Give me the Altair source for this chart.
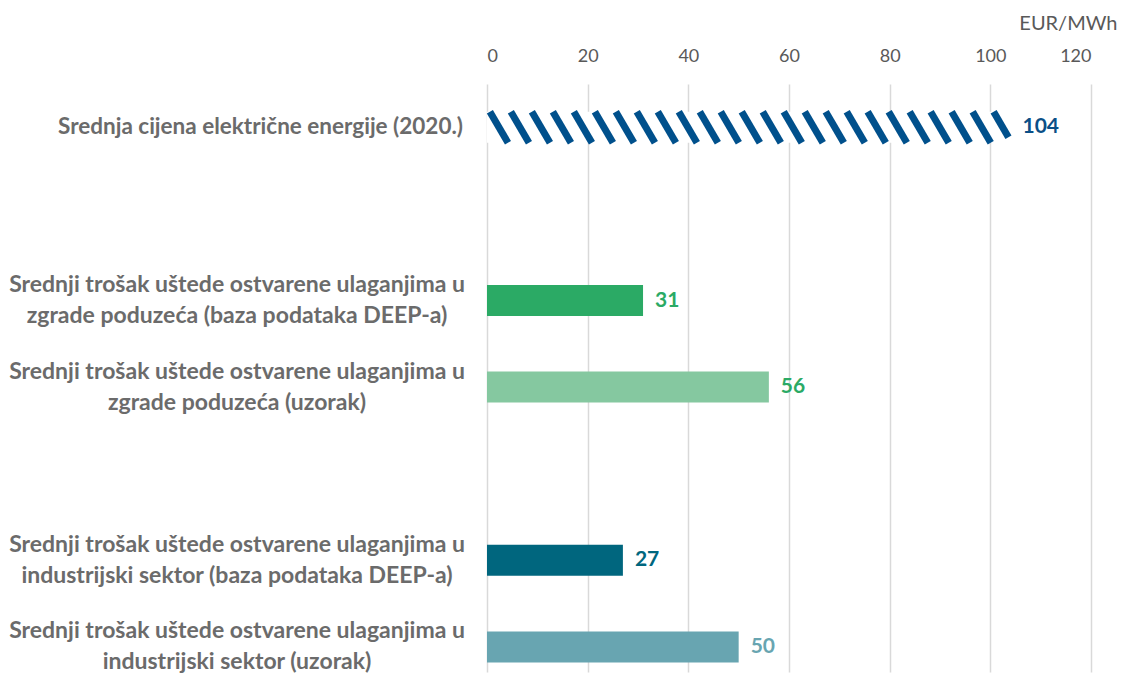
import altair as alt
import pandas as pd

# ---- data ----
categories = [
    "Srednja cijena električne energije (2020.)",
    "Srednji trošak uštede ostvarene ulaganjima u\nzgrade poduzeća (baza podataka DEEP-a)",
    "Srednji trošak uštede ostvarene ulaganjima u\nzgrade poduzeća (uzorak)",
    "Srednji trošak uštede ostvarene ulaganjima u\nindustrijski sektor (baza podataka DEEP-a)",
    "Srednji trošak uštede ostvarene ulaganjima u\nindustrijski sektor (uzorak)",
]
values = [104, 31, 56, 27, 50]
x_ticks = [0, 20, 40, 60, 80, 100, 120]
unit_label = "EUR/MWh"

# ---- layout / style (not data) ----
# row order with blank rows separating the groups
row_order = [categories[0], None, categories[1], categories[2], None, categories[3], categories[4]]
bar_fill = ["#FFFFFF", "#2BAA65", "#85C8A0", "#00667E", "#68A5B1"]
label_color = ["#0B4F87", "#2BAA65", "#2BAA65", "#00667E", "#68A5B1"]
hatch_color = "#00508C"
grey = "#6B6B6B"
tick_grey = "#595959"

W, H = 604, 588
STEP = 86.6            # px per row
BH = 31 / STEP         # bar thickness in row units
Y_MAX = H / STEP - 0.5
LABEL_SIZE = 23
LINE_H = 31

keys = [f"r{i}" for i in range(len(categories))]
df = pd.DataFrame({
    "key": keys,
    "cat": categories,
    "value": values,
    "row": [row_order.index(c) for c in categories],
})
df["multi"] = df["cat"].str.contains("\n")

xscale = alt.Scale(domain=[x_ticks[0], x_ticks[-1]], nice=False, zero=True)
yscale = alt.Scale(domain=[-0.5, Y_MAX], reverse=True, nice=False, zero=False)
x_axis = alt.Axis(orient="top", values=x_ticks, grid=True, gridColor="#D9D9D9",
                  gridWidth=1.5, ticks=False, domain=False, labelFont="Lato",
                  labelFontSize=18, labelColor=tick_grey, labelPadding=19,
                  titleFont="Lato", titleFontSize=20, titleFontWeight="normal",
                  titleColor=tick_grey, titleX=W + 26, titleY=-61,
                  titleAlign="right", titleBaseline="middle", titleAngle=0)


def X(field):
    return alt.X(field, scale=xscale, axis=x_axis, title=unit_label)


def Y(field):
    return alt.Y(field, scale=yscale, axis=None)


base = alt.Chart(df).transform_calculate(
    y0=f"datum.row - {BH/2}", y1=f"datum.row + {BH/2}", x0="0"
)

bars = base.mark_rect().encode(
    x=X("x0:Q"),
    x2="value:Q",
    y=Y("y0:Q"),
    y2="y1:Q",
    fill=alt.Fill("key:N", scale=alt.Scale(domain=keys, range=bar_fill), legend=None),
)

# hatch stripes for the first (price) bar
hv = values[0]
hrow = row_order.index(categories[0])
DX = 3.6      # horizontal shift of a stripe across the bar (x units)
PERIOD = 4.17 # stripe spacing (x units)
LO, HI = 0.4, hv - 0.4
stripes = alt.Chart(alt.sequence(-DX, hv + PERIOD, PERIOD, as_="k")).transform_calculate(
    top=f"{hrow} - {BH/2}",
    xs=f"max(datum.k, {LO})",
    xe=f"min(datum.k + {DX}, {HI})",
).transform_filter("datum.xs < datum.xe").transform_calculate(
    ys=f"datum.top + (datum.xs - datum.k) / {DX} * {BH}",
    ye=f"datum.top + (datum.xe - datum.k) / {DX} * {BH}",
).mark_rule(strokeWidth=7, color=hatch_color, strokeCap="butt").encode(
    x=X("xs:Q"),
    x2="xe:Q",
    y=Y("ys:Q"),
    y2="ye:Q",
)

value_labels = alt.Chart(df).mark_text(
    align="left", baseline="middle", dx=12, font="Lato", fontWeight="bold", fontSize=21
).encode(
    x=X("value:Q"),
    y=Y("row:Q"),
    text="value:Q",
    color=alt.Color("key:N", scale=alt.Scale(domain=keys, range=label_color), legend=None),
)

cat_multi = alt.Chart(df).transform_filter("datum.multi").mark_text(
    align="center", baseline="middle", lineBreak="\n", font="Lato", fontWeight="bold",
    fontSize=LABEL_SIZE, lineHeight=LINE_H, dy=-LINE_H / 2, color=grey
).encode(
    x=alt.value(-250),
    y=Y("row:Q"),
    text="cat:N",
)

cat_single = alt.Chart(df).transform_filter("!datum.multi").mark_text(
    align="right", baseline="middle", font="Lato", fontWeight="bold",
    fontSize=22.5, color=grey
).encode(
    x=alt.value(-24),
    y=Y("row:Q"),
    text="cat:N",
)

chart = alt.layer(bars, stripes, value_labels, cat_multi, cat_single).resolve_scale(
    color="independent", fill="independent"
).properties(
    width=W, height=H,
    autosize=alt.AutoSizeParams(type="none"),
    padding={"left": 479, "top": 76, "right": 27, "bottom": 4},
    background="white",
).configure_view(stroke=None)

chart.save("out.html", embed_options={"renderer": "svg", "actions": False})
